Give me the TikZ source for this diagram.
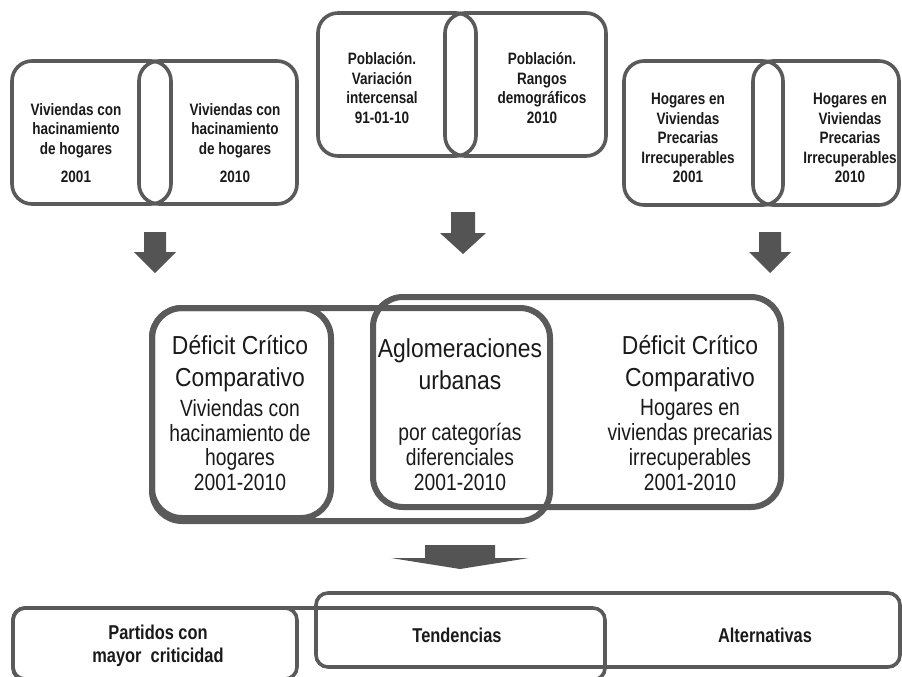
\documentclass[tikz,border=0pt]{standalone}
\usepackage{fontspec}
\setmainfont{Liberation Sans}
\newfontfamily\narrowsans[FakeStretch=0.82]{Liberation Sans}
\newfontfamily\headsans[FakeStretch=0.88]{Liberation Sans}
\definecolor{edgegray}{HTML}{5A5A5A}
\definecolor{arrowgray}{HTML}{545454}
\definecolor{inkgray}{HTML}{1A1A1A}
% block arrow pointing down: centre x, top y, head base y, tip y, half shaft, half head
\newcommand{\dropArrow}[6]{%
  \fill[arrowgray] (#1-#5,#2) -- (#1+#5,#2) -- (#1+#5,#3) -- (#1+#6,#3)
    -- (#1,#4) -- (#1-#6,#3) -- (#1-#5,#3) -- cycle;}
\begin{document}
\begin{tikzpicture}[x=1pt,y=-1pt,
  topbox/.style={draw=edgegray,line width=3.6pt,rounded corners=20pt},
  midbox/.style={draw=edgegray,line width=6pt,rounded corners=30pt},
  lowbox/.style={draw=edgegray,line width=3.6pt,rounded corners=12pt},
  toptext/.style={align=center,text=inkgray,inner sep=0pt,
    font=\narrowsans\bfseries\fontsize{16.5}{19.5}\selectfont},
  headtext/.style={align=center,text=inkgray,inner sep=0pt,
    font=\headsans\fontsize{26}{32}\selectfont},
  detailtext/.style={align=center,text=inkgray,inner sep=0pt,
    font=\narrowsans\fontsize{23.5}{24.7}\selectfont},
  lowtext/.style={align=center,text=inkgray,inner sep=0pt,
    font=\narrowsans\bfseries\fontsize{20}{23}\selectfont}]
\useasboundingbox (0,0) rectangle (902,677);
\fill[white] (0,0) rectangle (902,677);
\begin{scope}
\clip (0,0) rectangle (902,677);

% ---- top row: paired census sources ----
\draw[topbox] (12,61) rectangle (171,204);
\draw[topbox] (139,61) rectangle (297,204);
\node[toptext] (vh01) at (76,143) {Viviendas con\\hacinamiento\\de hogares\\[9pt]2001};
\node[toptext] (vh10) at (235,143) {Viviendas con\\hacinamiento\\de hogares\\[9pt]2010};

\draw[topbox] (318,13) rectangle (476,156);
\draw[topbox] (445,13) rectangle (606,156);
\node[toptext] (pv) at (382,88) {Población.\\Variación\\intercensal\\91-01-10};
\node[toptext] (pr) at (542,88) {Población.\\Rangos\\demográficos\\2010};

\draw[topbox] (624,61) rectangle (783,205);
\draw[topbox] (753,61) rectangle (899,205);
\node[toptext] (hp01) at (688,138) {Hogares en\\Viviendas\\Precarias\\Irrecuperables\\2001};
\node[toptext] (hp10) at (850,138) {Hogares en\\Viviendas\\Precarias\\Irrecuperables\\2010};

% ---- arrows into the comparison ----
\dropArrow{155}{232}{252}{273}{11}{21}
\dropArrow{463}{212}{233}{254}{12}{23}
\dropArrow{770}{232}{252}{273}{11}{21}

% ---- middle row: comparative deficit ----
\draw[midbox] (373,297) rectangle (781,507);
\draw[midbox] (152,308) rectangle (550,521);
\draw[midbox] (152,308) rectangle (331,518);
\node[headtext] (dc1) at (240,364) {Déficit Crítico\\Comparativo};
\node[detailtext] (dd1) at (240,445) {Viviendas con\\hacinamiento de\\hogares\\2001-2010};
\node[headtext] (ag) at (460,364) {Aglomeraciones\\urbanas};
\node[detailtext] (agd) at (460,457) {por categorías\\diferenciales\\2001-2010};
\node[headtext] (dc2) at (690,364) {Déficit Crítico\\Comparativo};
\node[detailtext] (dd2) at (690,445) {Hogares en\\viviendas precarias\\irrecuperables\\2001-2010};

% ---- arrow to results ----
\dropArrow{460}{545}{558}{569}{35}{69}

% ---- bottom row: results ----
\draw[lowbox] (316,593) rectangle (900,667);
\draw[lowbox] (13,608) rectangle (605,680);
\draw[lowbox] (13,608) rectangle (297,679);
\node[lowtext] (pc) at (158,646) {Partidos con\\mayor\ \ criticidad};
\node[lowtext] (td) at (457,635) {Tendencias};
\node[lowtext] (al) at (765,635) {Alternativas};
\end{scope}
\end{tikzpicture}
\end{document}
